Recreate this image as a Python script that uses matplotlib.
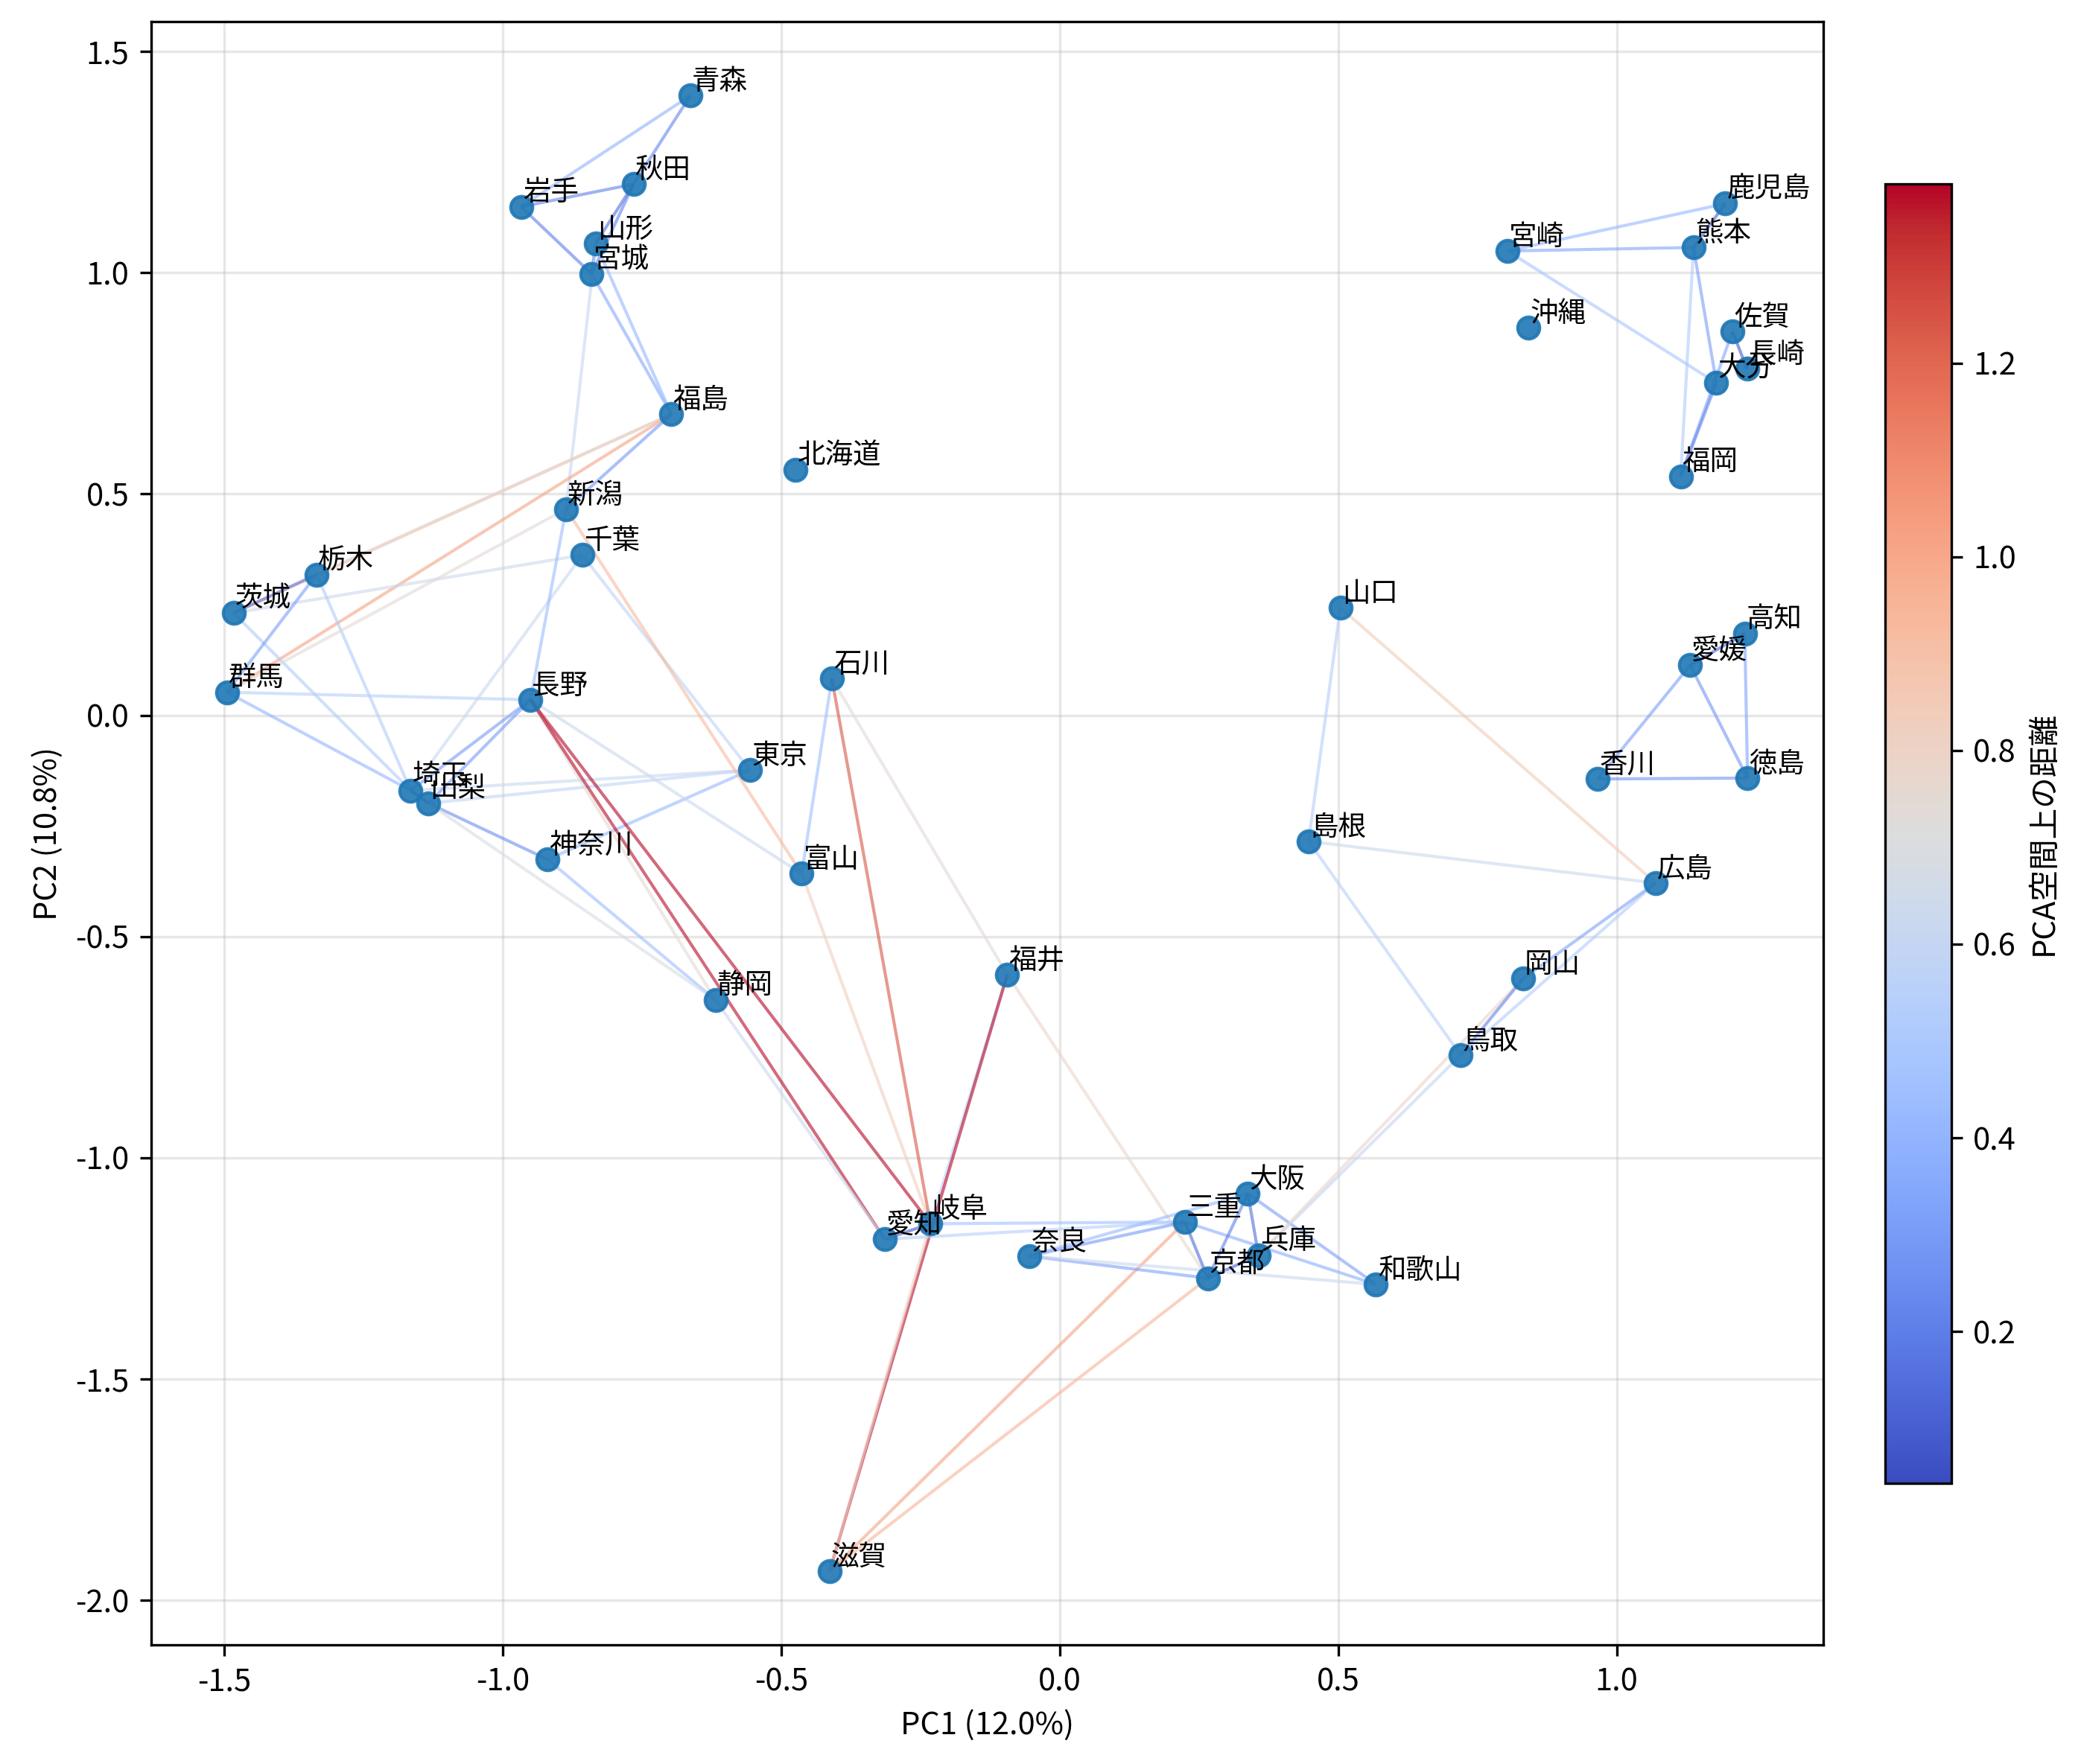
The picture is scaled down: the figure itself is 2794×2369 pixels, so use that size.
import numpy as np
import matplotlib
matplotlib.use("Agg")
import matplotlib.pyplot as plt
from matplotlib.collections import LineCollection
from matplotlib.colors import Normalize

plt.rcParams['font.family'] = ['Noto Sans CJK JP', 'DejaVu Sans']
plt.rcParams['axes.unicode_minus'] = False

prefs = ['北海道', '青森', '岩手', '宮城', '秋田', '山形', '福島', '茨城', '栃木', '群馬',
         '埼玉', '千葉', '東京', '神奈川', '新潟', '富山', '石川', '福井', '山梨', '長野',
         '岐阜', '静岡', '愛知', '三重', '滋賀', '京都', '大阪', '兵庫', '奈良', '和歌山',
         '鳥取', '島根', '岡山', '広島', '山口', '徳島', '香川', '愛媛', '高知', '福岡',
         '佐賀', '長崎', '熊本', '大分', '宮崎', '鹿児島', '沖縄']

pc1 = [-0.474, -0.663, -0.967, -0.840, -0.765, -0.833, -0.697, -1.483, -1.334, -1.495,
       -1.165, -0.857, -0.556, -0.919, -0.886, -0.463, -0.409, -0.094, -1.133, -0.950,
       -0.232, -0.618, -0.314, 0.225, -0.413, 0.266, 0.338, 0.357, -0.055, 0.568,
       0.720, 0.447, 0.832, 1.070, 0.504, 1.235, 0.966, 1.132, 1.230, 1.115,
       1.208, 1.234, 1.138, 1.179, 0.804, 1.195, 0.842]

pc2 = [0.555, 1.400, 1.149, 0.997, 1.200, 1.066, 0.680, 0.231, 0.318, 0.052,
       -0.170, 0.362, -0.124, -0.326, 0.466, -0.358, 0.083, -0.586, -0.199, 0.035,
       -1.149, -0.643, -1.184, -1.145, -1.934, -1.272, -1.081, -1.220, -1.222, -1.286,
       -0.768, -0.285, -0.595, -0.379, 0.243, -0.142, -0.144, 0.113, 0.185, 0.540,
       0.867, 0.783, 1.057, 0.751, 1.049, 1.156, 0.876]

edges = [
    ('青森', '岩手'), ('青森', '秋田'),
    ('岩手', '宮城'), ('岩手', '秋田'),
    ('宮城', '秋田'), ('宮城', '山形'), ('宮城', '福島'),
    ('秋田', '山形'),
    ('山形', '福島'), ('山形', '新潟'),
    ('福島', '茨城'), ('福島', '栃木'), ('福島', '群馬'), ('福島', '新潟'),
    ('茨城', '栃木'), ('茨城', '埼玉'), ('茨城', '千葉'),
    ('栃木', '群馬'), ('栃木', '埼玉'),
    ('群馬', '埼玉'), ('群馬', '新潟'), ('群馬', '長野'),
    ('埼玉', '千葉'), ('埼玉', '東京'), ('埼玉', '山梨'), ('埼玉', '長野'),
    ('千葉', '東京'),
    ('東京', '神奈川'), ('東京', '山梨'),
    ('神奈川', '山梨'), ('神奈川', '静岡'),
    ('新潟', '富山'), ('新潟', '長野'),
    ('富山', '石川'), ('富山', '長野'), ('富山', '岐阜'),
    ('石川', '福井'), ('石川', '岐阜'),
    ('福井', '岐阜'), ('福井', '滋賀'), ('福井', '京都'),
    ('山梨', '長野'), ('山梨', '静岡'),
    ('長野', '岐阜'), ('長野', '静岡'), ('長野', '愛知'),
    ('岐阜', '愛知'), ('岐阜', '三重'), ('岐阜', '滋賀'),
    ('静岡', '愛知'),
    ('愛知', '三重'),
    ('三重', '滋賀'), ('三重', '京都'), ('三重', '奈良'), ('三重', '和歌山'),
    ('滋賀', '京都'),
    ('京都', '大阪'), ('京都', '兵庫'), ('京都', '奈良'),
    ('大阪', '兵庫'), ('大阪', '奈良'), ('大阪', '和歌山'),
    ('兵庫', '鳥取'), ('兵庫', '岡山'),
    ('奈良', '和歌山'),
    ('鳥取', '島根'), ('鳥取', '岡山'), ('鳥取', '広島'),
    ('島根', '広島'), ('島根', '山口'),
    ('岡山', '広島'),
    ('広島', '山口'),
    ('徳島', '香川'), ('徳島', '愛媛'), ('徳島', '高知'),
    ('香川', '愛媛'),
    ('愛媛', '高知'),
    ('福岡', '佐賀'), ('福岡', '熊本'), ('福岡', '大分'),
    ('佐賀', '長崎'),
    ('熊本', '大分'), ('熊本', '宮崎'), ('熊本', '鹿児島'),
    ('大分', '宮崎'),
    ('宮崎', '鹿児島'),
]

x_label = 'PC1 (12.0%)'
y_label = 'PC2 (10.8%)'
cbar_label = 'PCA空間上の距離'

W, H, DPI = 2794, 2369, 300
fig = plt.figure(figsize=(W / DPI, H / DPI), dpi=DPI)
ax = fig.add_axes([0.0725, 0.0675, 0.8038, 0.9201])
cax = fig.add_axes([0.9058, 0.1591, 0.0319, 0.7368])

idx = {p: i for i, p in enumerate(prefs)}
xs = np.array(pc1)
ys = np.array(pc2)

segs = []
dists = []
for a, b in edges:
    i, j = idx[a], idx[b]
    segs.append([(xs[i], ys[i]), (xs[j], ys[j])])
    dists.append(np.hypot(xs[i] - xs[j], ys[i] - ys[j]))
dists = np.array(dists)

cmap = plt.get_cmap('coolwarm')
norm = Normalize(vmin=dists.min(), vmax=dists.max())
lc = LineCollection(segs, colors=cmap(norm(dists)), linewidths=1.0, alpha=0.6, zorder=1)
ax.add_collection(lc)

ax.scatter(xs, ys, s=50, color='#1f77b4', alpha=0.9, zorder=2)

for p, x, y in zip(prefs, xs, ys):
    ax.annotate(p, (x, y), xytext=(0.5, 2), textcoords='offset points',
                fontsize=9, zorder=3)

ax.set_xlabel(x_label, fontsize=10)
ax.set_ylabel(y_label, fontsize=10)
ax.grid(True, alpha=0.3)
ax.set_axisbelow(True)

sm = plt.cm.ScalarMappable(cmap=cmap, norm=norm)
sm.set_array([])
cb = fig.colorbar(sm, cax=cax)
cb.set_label(cbar_label, fontsize=10)

fig.savefig('out.png', dpi=DPI)
